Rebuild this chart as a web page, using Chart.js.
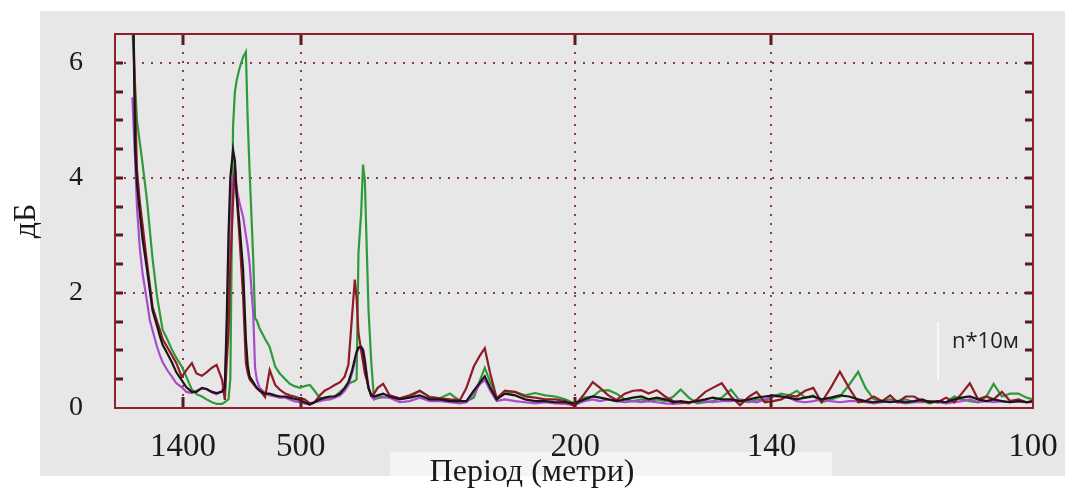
<!DOCTYPE html>
<html>
<head>
<meta charset="utf-8">
<script src="https://cdn.jsdelivr.net/npm/chart.js@4.4.1/dist/chart.umd.min.js"></script>
<style>
  html, body { margin: 0; padding: 0; background: #fff; }
  #wrap { position: relative; width: 1067px; height: 488px; }
</style>
</head>
<body>
<div id="wrap"><canvas id="spectrum"></canvas></div>
<script>
// spatial frequency, 1/km (= 1000 / period in metres)
const freq = [
  0.16, 0.19, 0.21, 0.24, 0.27, 0.32, 0.35, 0.38, 0.43, 0.46,
  0.49, 0.54, 0.59, 0.64, 0.70, 0.75, 0.81, 0.86, 0.92, 0.97,
  1.03, 1.08, 1.14, 1.17, 1.19, 1.21, 1.23, 1.26, 1.28, 1.30,
  1.33, 1.37, 1.40, 1.42, 1.44, 1.48, 1.50, 1.52, 1.55, 1.61,
  1.66, 1.72, 1.77, 1.83, 1.88, 1.93, 1.99, 2.04, 2.10, 2.15,
  2.21, 2.26, 2.32, 2.37, 2.43, 2.48, 2.52, 2.56, 2.59, 2.61,
  2.63, 2.66, 2.68, 2.70, 2.72, 2.74, 2.77, 2.80, 2.84, 2.90,
  2.97, 3.08, 3.19, 3.30, 3.41, 3.52, 3.63, 3.74, 3.81, 3.89,
  3.96, 4.01, 4.07, 4.14, 4.23, 4.34, 4.45, 4.56, 4.67, 4.78,
  4.89, 4.99, 5.10, 5.19, 5.27, 5.36, 5.45, 5.54, 5.63, 5.72,
  5.80, 5.89, 5.98, 6.07, 6.15, 6.24, 6.33, 6.42, 6.50, 6.60,
  6.70, 6.80, 6.90, 6.98, 7.07, 7.16, 7.25, 7.33, 7.42, 7.51,
  7.60, 7.69, 7.79, 7.89, 7.99, 8.09, 8.17, 8.26, 8.35, 8.44,
  8.52, 8.61, 8.70, 8.79, 8.87, 8.96, 9.05, 9.14, 9.22, 9.31,
  9.40, 9.49, 9.57, 9.66, 9.75, 9.84, 9.93, 10.0
];

const greenDb = [
  6.6, 5.6, 5.0, 4.63, 4.26, 3.6, 3.1, 2.6, 1.93, 1.65,
  1.36, 1.2, 1.02, 0.87, 0.72, 0.54, 0.32, 0.24, 0.2, 0.15,
  0.1, 0.07, 0.07, 0.1, 0.13, 0.15, 0.5, 4.9, 5.5, 5.7,
  5.9, 6.1, 6.19, 5.0, 4.14, 2.6, 1.56, 1.52, 1.38, 1.2,
  1.06, 0.72, 0.6, 0.5, 0.42, 0.38, 0.35, 0.38, 0.4, 0.3,
  0.17, 0.17, 0.17, 0.2, 0.28, 0.35, 0.42, 0.45, 0.47, 0.5,
  2.7, 3.4, 4.23, 3.95, 2.8, 1.7, 0.8, 0.15, 0.17, 0.19,
  0.18, 0.17, 0.19, 0.3, 0.19, 0.17, 0.25, 0.12, 0.12, 0.18,
  0.49, 0.7, 0.45, 0.17, 0.25, 0.28, 0.22, 0.26, 0.22, 0.2,
  0.15, 0.08, 0.18, 0.2, 0.3, 0.31, 0.25, 0.15, 0.12, 0.15,
  0.12, 0.15, 0.12, 0.2, 0.32, 0.18, 0.08, 0.1, 0.12, 0.18,
  0.32, 0.12, 0.1, 0.15, 0.12, 0.2, 0.25, 0.22, 0.3, 0.18,
  0.22, 0.1, 0.15, 0.2, 0.4, 0.63, 0.35, 0.15, 0.12, 0.15,
  0.12, 0.15, 0.1, 0.12, 0.08, 0.12, 0.1, 0.2, 0.15, 0.12,
  0.1, 0.2, 0.42, 0.2, 0.25, 0.25, 0.18, 0.15
];

const redDb = [
  7.5, 5.3, 4.14, 3.6, 3.2, 2.52, 2.15, 1.76, 1.5, 1.36,
  1.2, 1.06, 0.92, 0.78, 0.54, 0.66, 0.78, 0.6, 0.56, 0.62,
  0.7, 0.75, 0.49, 0.14, 0.78, 1.3, 2.5, 3.6, 4.2, 3.67,
  2.97, 1.93, 0.78, 0.61, 0.5, 0.42, 0.38, 0.34, 0.31, 0.19,
  0.66, 0.4, 0.32, 0.25, 0.22, 0.2, 0.17, 0.15, 0.08, 0.1,
  0.22, 0.3, 0.35, 0.4, 0.45, 0.55, 0.75, 1.6, 2.23, 1.9,
  1.3, 1.0, 0.8, 0.6, 0.49, 0.35, 0.22, 0.25, 0.35, 0.42,
  0.22, 0.17, 0.22, 0.3, 0.19, 0.17, 0.15, 0.14, 0.35, 0.72,
  0.92, 1.04, 0.6, 0.17, 0.3, 0.28, 0.2, 0.18, 0.15, 0.15,
  0.12, 0.03, 0.25, 0.45, 0.35, 0.22, 0.14, 0.25, 0.3, 0.31,
  0.25, 0.31, 0.2, 0.12, 0.1, 0.08, 0.15, 0.28, 0.35, 0.43,
  0.2, 0.05, 0.2, 0.28, 0.1, 0.12, 0.15, 0.22, 0.2, 0.3,
  0.35, 0.1, 0.35, 0.63, 0.35, 0.1, 0.12, 0.2, 0.12, 0.22,
  0.1, 0.2, 0.2, 0.12, 0.12, 0.1, 0.18, 0.1, 0.25, 0.43,
  0.15, 0.2, 0.15, 0.28, 0.12, 0.15, 0.1, 0.12
];

const purpleDb = [
  5.4, 4.3, 3.5, 2.8, 2.35, 1.85, 1.53, 1.35, 1.06, 0.92,
  0.8, 0.66, 0.55, 0.43, 0.36, 0.28, 0.26, 0.3, 0.34, 0.33,
  0.27, 0.24, 0.3, 0.45, 1.2, 2.5, 3.6, 4.0, 4.05, 3.8,
  3.57, 3.32, 3.0, 2.8, 2.52, 1.65, 0.7, 0.49, 0.35, 0.26,
  0.22, 0.2, 0.18, 0.18, 0.15, 0.12, 0.1, 0.08, 0.06, 0.1,
  0.12, 0.14, 0.15, 0.18, 0.22, 0.3, 0.4, 0.6, 0.8, 0.95,
  1.03, 1.06, 1.02, 0.85, 0.6, 0.35, 0.2, 0.15, 0.2, 0.2,
  0.18, 0.1, 0.12, 0.18, 0.12, 0.12, 0.1, 0.08, 0.1, 0.25,
  0.42, 0.49, 0.3, 0.12, 0.15, 0.12, 0.1, 0.08, 0.1, 0.08,
  0.07, 0.05, 0.12, 0.15, 0.12, 0.15, 0.12, 0.1, 0.12, 0.1,
  0.12, 0.1, 0.08, 0.07, 0.08, 0.1, 0.1, 0.12, 0.1, 0.12,
  0.12, 0.15, 0.12, 0.1, 0.15, 0.2, 0.2, 0.18, 0.12, 0.1,
  0.12, 0.15, 0.12, 0.1, 0.12, 0.12, 0.1, 0.08, 0.1, 0.12,
  0.1, 0.08, 0.1, 0.1, 0.12, 0.1, 0.08, 0.1, 0.12, 0.15,
  0.1, 0.12, 0.1, 0.12, 0.1, 0.12, 0.1, 0.1
];

const blackDb = [
  8.0, 4.5, 3.9, 3.4, 2.95, 2.4, 2.05, 1.7, 1.42, 1.25,
  1.1, 0.95, 0.8, 0.62, 0.48, 0.36, 0.28, 0.28, 0.35, 0.33,
  0.28, 0.26, 0.28, 0.35, 1.5, 3.0, 4.0, 4.49, 4.3, 3.7,
  3.2, 2.4, 1.2, 0.75, 0.55, 0.45, 0.4, 0.35, 0.3, 0.25,
  0.25, 0.22, 0.2, 0.2, 0.18, 0.16, 0.14, 0.1, 0.06, 0.1,
  0.15, 0.18, 0.2, 0.2, 0.25, 0.35, 0.45, 0.65, 0.85, 0.98,
  1.05, 1.06, 1.0, 0.8, 0.55, 0.35, 0.22, 0.2, 0.22, 0.25,
  0.2, 0.15, 0.18, 0.22, 0.15, 0.15, 0.12, 0.12, 0.12, 0.3,
  0.45, 0.55, 0.35, 0.15, 0.25, 0.22, 0.15, 0.12, 0.12, 0.1,
  0.1, 0.08, 0.15, 0.2, 0.18, 0.15, 0.12, 0.15, 0.18, 0.2,
  0.15, 0.18, 0.15, 0.1, 0.12, 0.1, 0.12, 0.15, 0.18, 0.15,
  0.15, 0.12, 0.15, 0.18, 0.2, 0.22, 0.2, 0.18, 0.15, 0.18,
  0.2, 0.15, 0.18, 0.22, 0.2, 0.15, 0.12, 0.1, 0.12, 0.1,
  0.12, 0.1, 0.12, 0.15, 0.1, 0.12, 0.1, 0.15, 0.18, 0.2,
  0.15, 0.12, 0.15, 0.12, 0.1, 0.12, 0.1, 0.12
];

const periodTicks = [1400, 500, 200, 140, 100];   // metres
const dbTicks = [0, 2, 4, 6];

const frameColor = "#8e2228";
const dotColor = "#8a4040";
const serif = "'Liberation Serif', 'Times New Roman', serif";

function series(values) {
  return freq.map((f, i) => ({ x: f, y: values[i] }));
}

// no extra room for overhanging labels, the frame is fixed by layout padding
function noOverhang(s) {
  s.paddingLeft = 0;
  s.paddingRight = 0;
  s.paddingTop = 0;
  s.paddingBottom = 0;
}

// background panel, frame, inner tick marks and the loose captions
const decor = {
  id: "decor",
  beforeDraw(chart) {
    const ctx = chart.ctx;
    ctx.save();
    ctx.fillStyle = "#ffffff";
    ctx.fillRect(0, 0, chart.width, chart.height);
    ctx.fillStyle = "#e7e7e7";
    ctx.fillRect(40, 11, 1025, 465);
    ctx.fillStyle = "#f4f4f4";
    ctx.fillRect(390, 452, 442, 24);
    ctx.fillStyle = "#f7f7f7";
    ctx.fillRect(937, 322, 2, 58);
    ctx.restore();
  },
  afterDatasetsDraw(chart) {
    const ctx = chart.ctx;
    const a = chart.chartArea;
    const xs = chart.scales.x;
    const ys = chart.scales.y;
    ctx.save();

    // minor ticks on both sides, every 0.5 dB
    ctx.strokeStyle = "#5a1a1e";
    ctx.lineWidth = 3;
    ctx.beginPath();
    for (let v = 0.5; v <= 6; v += 0.5) {
      const y = Math.round(ys.getPixelForValue(v));
      ctx.moveTo(a.left, y); ctx.lineTo(a.left + 8, y);
      ctx.moveTo(a.right - 8, y); ctx.lineTo(a.right, y);
    }
    periodTicks.slice(0, -1).forEach(p => {
      const x = Math.round(xs.getPixelForValue(1000 / p));
      ctx.moveTo(x, a.top); ctx.lineTo(x, a.top + 11);
      ctx.moveTo(x, a.bottom - 11); ctx.lineTo(x, a.bottom);
    });
    ctx.stroke();

    ctx.strokeStyle = frameColor;
    ctx.lineWidth = 2;
    ctx.strokeRect(a.left, a.top, a.right - a.left, a.bottom - a.top);

    ctx.fillStyle = "#1a1a1a";
    ctx.font = "32px " + serif;
    ctx.textAlign = "center";
    ctx.textBaseline = "alphabetic";
    ctx.fillText("Період (метри)", 532, 481);

    ctx.font = "22px 'Open Sans', 'Noto Sans', sans-serif";
    ctx.textAlign = "left";
    ctx.fillStyle = "#222";
    ctx.fillText("n*10м", 952, 348);
    ctx.restore();
  }
};

const ctx = document.getElementById("spectrum").getContext("2d");

window.chart = new Chart(ctx, {
  type: "line",
  data: {
    datasets: [
      { label: "black", data: series(blackDb), borderColor: "#1c1416" },
      { label: "red", data: series(redDb), borderColor: "#8e1b26" },
      { label: "purple", data: series(purpleDb), borderColor: "#a94ccb" },
      { label: "green", data: series(greenDb), borderColor: "#2f9a3a" }
    ]
  },
  options: {
    responsive: true,
    maintainAspectRatio: false,
    animation: false,
    devicePixelRatio: 1,
    elements: {
      line: { borderWidth: 2.2, tension: 0 },
      point: { radius: 0 }
    },
    layout: { padding: { left: 0, top: 34, right: 34, bottom: 0 } },
    plugins: {
      legend: { display: false },
      tooltip: { enabled: false }
    },
    scales: {
      x: {
        type: "linear",
        min: -0.03,
        max: 10,
        afterBuildTicks: s => { s.ticks = periodTicks.map(p => ({ value: 1000 / p })); },
        afterFit: s => { s.height = 80; noOverhang(s); },
        ticks: {
          callback: (v, i) => periodTicks[i],
          autoSkip: false,
          maxRotation: 0,
          padding: 20,
          color: "#1a1a1a",
          font: { family: serif, size: 33 }
        },
        grid: {
          drawTicks: false,
          lineWidth: 2,
          color: c => (c.tick && c.tick.value < 9.9 ? dotColor : "transparent")
        },
        border: { display: false, dash: [2, 7] }
      },
      y: {
        min: 0,
        max: 6.5,
        afterBuildTicks: s => { s.ticks = dbTicks.map(v => ({ value: v })); },
        afterFit: s => { s.width = 115; noOverhang(s); },
        ticks: {
          padding: 32,
          color: "#1a1a1a",
          font: { family: serif, size: 28 }
        },
        grid: {
          drawTicks: false,
          lineWidth: 2,
          color: c => (c.tick && c.tick.value > 0 ? dotColor : "transparent")
        },
        border: { display: false, dash: [2, 7] },
        title: {
          display: true,
          text: "дБ",
          color: "#1a1a1a",
          font: { family: serif, size: 32 },
          padding: { top: 7, bottom: 0 }
        }
      }
    }
  },
  plugins: [decor]
});
</script>
</body>
</html>
